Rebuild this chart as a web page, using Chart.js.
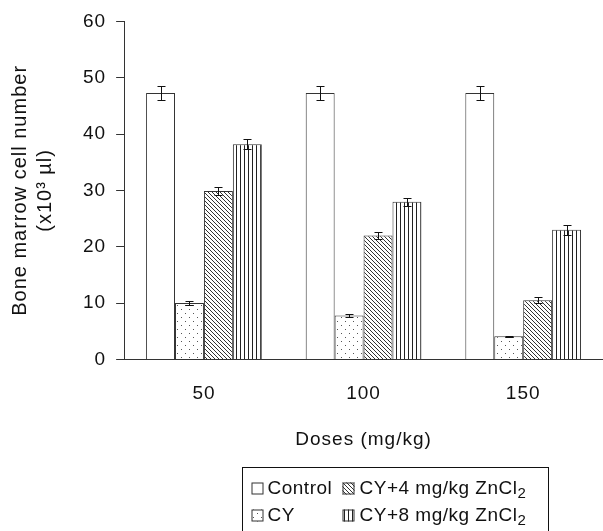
<!DOCTYPE html>
<html>
<head>
<meta charset="utf-8">
<script src="https://cdn.jsdelivr.net/npm/chart.js@4/dist/chart.umd.min.js"></script>
<style>
  html, body { margin: 0; padding: 0; background: #fff; }
  #wrap { width: 603px; height: 531px; }
</style>
</head>
<body>
<div id="wrap"><canvas id="chart" width="603" height="531"></canvas></div>
<script>
const doses = ["50", "100", "150"];
const control = [47.3, 47.3, 47.3];
const controlErr = [1.3, 1.3, 1.3];
const cy = [10.0, 7.8, 4.1];
const cyErr = [0.4, 0.3, 0.1];
const cy4 = [29.9, 22.0, 10.5];
const cy4Err = [0.7, 0.7, 0.5];
const cy8 = [38.2, 28.0, 23.0];
const cy8Err = [0.9, 0.7, 0.9];
const yTicks = [0, 10, 20, 30, 40, 50, 60];

const FONT = "'Liberation Sans', Arial, sans-serif";
const INK = "#111";

function makePattern(w, h, draw) {
  const c = document.createElement("canvas");
  c.width = w;
  c.height = h;
  const g = c.getContext("2d");
  g.fillStyle = "#fff";
  g.fillRect(0, 0, w, h);
  draw(g);
  return c.getContext("2d").createPattern(c, "repeat");
}

const dotPattern = makePattern(8, 8, function (g) {
  g.fillStyle = "#555";
  g.fillRect(1, 1, 1, 1);
  g.fillRect(5, 5, 1, 1);
});
const diagPattern = makePattern(4, 4, function (g) {
  g.fillStyle = "#333";
  for (let i = 0; i < 4; i++) g.fillRect(i, i, 1, 1);
});
const vertPattern = makePattern(4, 4, function (g) {
  g.fillStyle = "#222";
  g.fillRect(0, 0, 1, 4);
});

// slightly wider text, like the original figure
const spacing = {
  id: "spacing",
  beforeLayout(chart) { chart.ctx.letterSpacing = "1px"; },
  beforeDraw(chart) { chart.ctx.letterSpacing = "1px"; },
};

const errorBars = {
  id: "errorBars",
  afterDatasetsDraw(chart) {
    const ctx = chart.ctx;
    const yScale = chart.scales.y;
    ctx.save();
    ctx.strokeStyle = INK;
    ctx.lineWidth = 1;
    chart.data.datasets.forEach(function (ds, i) {
      const meta = chart.getDatasetMeta(i);
      meta.data.forEach(function (bar, j) {
        const v = ds.data[j];
        const e = ds.errors[j];
        const x = Math.round(bar.x) + 0.5;
        const top = Math.round(yScale.getPixelForValue(v + e)) + 0.5;
        const bot = Math.round(yScale.getPixelForValue(v - e)) + 0.5;
        ctx.beginPath();
        ctx.moveTo(x, top);
        ctx.lineTo(x, bot);
        ctx.moveTo(x - 4, top);
        ctx.lineTo(x + 4, top);
        ctx.moveTo(x - 4, bot);
        ctx.lineTo(x + 4, bot);
        ctx.stroke();
      });
    });
    ctx.restore();
  },
};

const boxLegend = {
  id: "boxLegend",
  afterDraw(chart) {
    const ctx = chart.ctx;
    const ds = chart.data.datasets;
    const bx = 242.5, by = 467.5, bw = 306, bh = 70;
    ctx.save();
    ctx.letterSpacing = "0.5px";
    ctx.strokeStyle = INK;
    ctx.lineWidth = 1;
    ctx.strokeRect(bx, by, bw, bh);
    const cells = [
      { d: ds[0], x: bx + 9, y: by + 21 },
      { d: ds[2], x: bx + 100, y: by + 21 },
      { d: ds[1], x: bx + 9, y: by + 48 },
      { d: ds[3], x: bx + 100, y: by + 48 },
    ];
    ctx.textBaseline = "middle";
    cells.forEach(function (c) {
      ctx.fillStyle = c.d.backgroundColor;
      ctx.fillRect(c.x, c.y - 6, 12, 12);
      ctx.strokeStyle = "#333";
      ctx.strokeRect(c.x + 0.5, c.y - 6 + 0.5, 11, 11);
      ctx.fillStyle = INK;
      ctx.font = "19px " + FONT;
      const txt = c.d.label;
      const m = txt.match(/^(.*?)(\d)$/);
      if (c.d.sub && m) {
        ctx.fillText(m[1], c.x + 17, c.y);
        const w = ctx.measureText(m[1]).width;
        ctx.font = "15px " + FONT;
        ctx.fillText(m[2], c.x + 17 + w, c.y + 5);
      } else {
        ctx.fillText(txt, c.x + 16, c.y);
      }
    });
    ctx.restore();
  },
};

const datasets = [
  { label: "Control", data: control, errors: controlErr, backgroundColor: "#fff" },
  { label: "CY", data: cy, errors: cyErr, backgroundColor: dotPattern },
  { label: "CY+4 mg/kg ZnCl2", data: cy4, errors: cy4Err, backgroundColor: diagPattern, sub: true },
  { label: "CY+8 mg/kg ZnCl2", data: cy8, errors: cy8Err, backgroundColor: vertPattern, sub: true },
].map(function (d) {
  return Object.assign(d, {
    borderColor: "#333",
    borderWidth: 1,
    borderSkipped: "bottom",
    categoryPercentage: 0.725,
    barPercentage: 1.0,
  });
});

new Chart(document.getElementById("chart"), {
  type: "bar",
  data: { labels: doses, datasets: datasets },
  options: {
    responsive: false,
    animation: false,
    devicePixelRatio: 1,
    layout: { padding: { top: 13, right: 0, left: 0, bottom: 80 } },
    plugins: { legend: { display: false }, tooltip: { enabled: false } },
    scales: {
      x: {
        grid: { display: false, drawTicks: false },
        border: { display: true, color: "#333", width: 1 },
        ticks: { color: INK, font: { family: FONT, size: 19 }, padding: 23 },
        title: {
          display: true,
          text: "Doses (mg/kg)",
          color: INK,
          font: { family: FONT, size: 19 },
          padding: { top: 0, bottom: 0 },
        },
      },
      y: {
        min: 0,
        max: 60,
        afterBuildTicks: function (axis) {
          axis.ticks = yTicks.map(function (v) { return { value: v }; });
        },
        grid: { display: true, drawOnChartArea: false, drawTicks: true, tickLength: 8, color: "#333" },
        border: { display: true, color: "#333", width: 1 },
        ticks: { color: INK, font: { family: FONT, size: 19 }, padding: 10 },
        title: {
          display: true,
          text: ["Bone marrow cell number", "(x10\u00b3 \u00b5l)"],
          color: INK,
          font: { family: FONT, size: 20, lineHeight: 1.25 },
          padding: { top: 8, bottom: 15 },
        },
      },
    },
  },
  plugins: [spacing, errorBars, boxLegend],
});
</script>
</body>
</html>
